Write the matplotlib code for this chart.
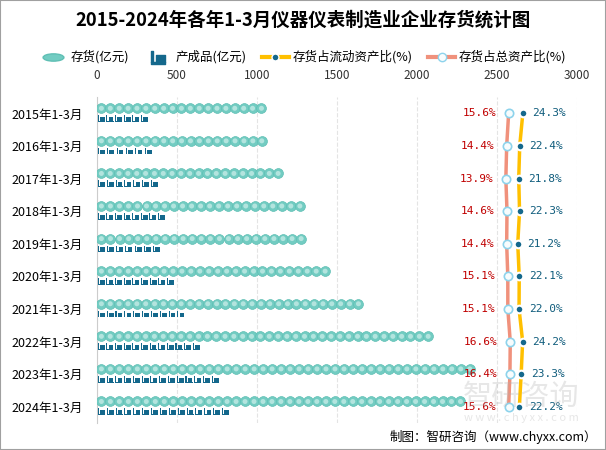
import numpy as np
import matplotlib
matplotlib.use("Agg")
import matplotlib.pyplot as plt
from matplotlib.path import Path
from matplotlib.lines import Line2D
from matplotlib.patches import Rectangle

plt.rcParams['font.family'] = ['Noto Sans CJK SC', 'DejaVu Sans']

years = ['2015年1-3月', '2016年1-3月', '2017年1-3月', '2018年1-3月', '2019年1-3月',
         '2020年1-3月', '2021年1-3月', '2022年1-3月', '2023年1-3月', '2024年1-3月']
inventory = [1056, 1058, 1160, 1296, 1304, 1454, 1662, 2098, 2358, 2300]
finished = [325, 348, 387, 431, 400, 487, 552, 648, 767, 831]
ratio_current = [24.3, 22.4, 21.8, 22.3, 21.2, 22.1, 22.0, 24.2, 23.3, 22.2]
ratio_total = [15.6, 14.4, 13.9, 14.6, 14.4, 15.1, 15.1, 16.6, 16.4, 15.6]

teal = '#72ccc2'
teal_light = '#b3e4de'
navy = '#14688c'
yellow = '#ffc000'
salmon = '#f0917c'
ring = '#8dd3ec'

# small "forklift" like icon for finished goods
verts = [(-1.0, -1.0), (1.0, -1.0), (1.0, -0.75), (-1.0, -0.75), (-1.0, -1.0),
         (-1.0, -0.75), (-0.7, -0.75), (-0.7, 0.9), (-1.0, 0.9), (-1.0, -0.75),
         (-0.35, -0.75), (0.95, -0.75), (0.95, 0.35), (-0.35, 0.35), (-0.35, -0.75)]
codes = ([Path.MOVETO] + [Path.LINETO] * 3 + [Path.CLOSEPOLY]) * 3
icon = Path(verts, codes)
ellipse = Path(Path.unit_circle().vertices * np.array([2.0, 0.7]), Path.unit_circle().codes)

fig = plt.figure(figsize=(6.06, 4.5), dpi=100)
ax = fig.add_axes([0.160, 0.060, 0.792, 0.724])
ax2 = ax.twiny()

y = np.arange(len(years))
step_inv = 55.6
step_fin = 54.4
for i, v in enumerate(inventory):
    n = int(round(v / step_inv))
    xs = np.linspace(step_inv / 2, v - step_inv / 2, n)
    ax.scatter(xs, np.full(n, y[i] - 0.16), s=50, c=teal, edgecolors='#5fbfb4',
               linewidths=0.5, zorder=3)
    ax.scatter(xs, np.full(n, y[i] - 0.16), s=13, c=teal_light, edgecolors='none', zorder=4)
for i, v in enumerate(finished):
    n = int(round(v / step_fin))
    xs = np.linspace(step_fin / 2, v - step_fin / 2, n)
    ax.scatter(xs, np.full(n, y[i] + 0.15), s=26, marker=icon, c=navy,
               edgecolors='none', zorder=3)

ax.set_xlim(0, 3000)
ax.set_ylim(len(years) - 0.5, -0.5)
ax.set_xticks(np.arange(0, 3001, 500))
ax.xaxis.tick_top()
ax.tick_params(axis='x', length=0, pad=11, labelsize=8.5, colors='#333333',
               top=True, labeltop=True, bottom=False, labelbottom=False)
ax.tick_params(axis='y', length=0, pad=10, labelsize=9)
ax.set_yticks(y)
ax.set_yticklabels(years)
ax.grid(axis='x', color='#e4e4e4', linestyle='--', linewidth=0.8)
ax.set_axisbelow(True)
for s in ['top', 'right', 'bottom']:
    ax.spines[s].set_visible(False)
ax.spines['left'].set_color('#cccccc')

ax2.set_xlim(-237, 57.5)
ax2.axis('off')
ax2.plot(ratio_total, y, color=salmon, lw=2.5, zorder=3, marker='o', ms=6,
         mfc='#f7fcfd', mec=ring, mew=1.2)
ax2.plot(ratio_current, y, color=yellow, lw=2.5, zorder=3, marker='o', ms=5.5,
         mfc=navy, mec='white', mew=1.5)
for i in range(len(years)):
    ax2.annotate(f'{ratio_total[i]}%', (ratio_total[i], y[i]), xytext=(-9, 0),
                 textcoords='offset points', ha='right', va='center',
                 fontsize=8, color='#c00000', family='DejaVu Sans Mono')
    ax2.annotate(f'{ratio_current[i]}%', (ratio_current[i], y[i]), xytext=(7, 0),
                 textcoords='offset points', ha='left', va='center',
                 fontsize=8, color='#0f5c7c', family='DejaVu Sans Mono')

handles = [
    Line2D([], [], ls='', marker=ellipse, ms=15, mfc=teal, mec='#5fbfb4'),
    Line2D([], [], ls='', marker=icon, ms=10, mfc=navy, mec=navy),
    Line2D([], [], color=yellow, lw=3, marker='o', ms=5, mfc=navy, mec='white'),
    Line2D([], [], color=salmon, lw=3, marker='o', ms=6, mfc='#f7fcfd', mec=ring),
]
labels = ['存货(亿元)', '产成品(亿元)', '存货占流动资产比(%)', '存货占总资产比(%)']
fig.legend(handles, labels, loc='center', bbox_to_anchor=(0.5, 0.873), ncol=4,
           frameon=False, fontsize=9, handlelength=2.2, handletextpad=0.3,
           columnspacing=1.2)

fig.text(0.5, 0.955, '2015-2024年各年1-3月仪器仪表制造业企业存货统计图',
         ha='center', va='center', fontsize=13.3, fontweight='bold')
fig.text(0.985, 0.029, '制图：智研咨询（www.chyxx.com）', ha='right', va='center',
         fontsize=9)

# watermark
fig.text(0.86, 0.118, '智研咨询', ha='center', va='center', fontsize=21,
         color='#b0b0b0', alpha=0.3, zorder=0)
fig.text(0.86, 0.072, 'w w w . c h y x x . c o m', ha='center', va='center',
         fontsize=8, color='#b0b0b0', alpha=0.3, zorder=0)

fig.patches.append(Rectangle((0, 0), 1, 1, transform=fig.transFigure, fill=False,
                             edgecolor='#a0a0a0', lw=1.5))

fig.savefig('out.png', dpi=100)
